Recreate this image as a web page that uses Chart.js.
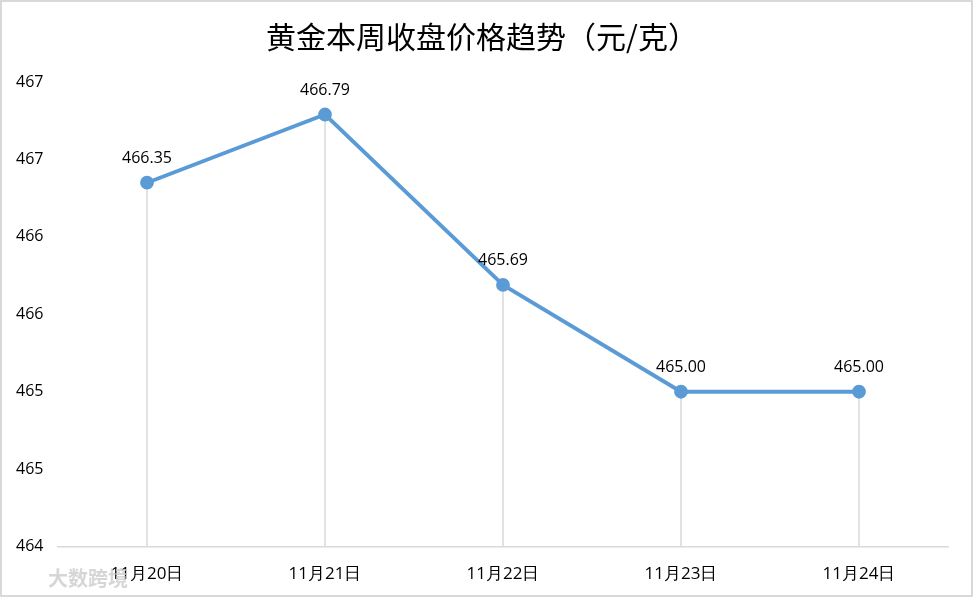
<!DOCTYPE html>
<html>
<head>
<meta charset="utf-8">
<script src="https://cdn.jsdelivr.net/npm/chart.js@4"></script>
<style>
  body { margin: 0; background: #fff; }
  #wrap { width: 973px; height: 597px; }
</style>
</head>
<body>
<div id="wrap"><canvas id="goldChart" width="973" height="597"></canvas></div>
<script>
// data
const dates = ['11月20日', '11月21日', '11月22日', '11月23日', '11月24日'];
const prices = [466.35, 466.79, 465.69, 465.00, 465.00];
const yTicks = [464, 464.5, 465, 465.5, 466, 466.5, 467];

const lineColor = '#5b9bd5';
const gray = '#d9d9d9';

// background, frame and watermark
const frame = {
  id: 'frame',
  beforeDraw(chart) {
    const ctx = chart.ctx;
    ctx.save();
    ctx.fillStyle = '#fff';
    ctx.fillRect(0, 0, chart.width, chart.height);
    ctx.strokeStyle = gray;
    ctx.lineWidth = 2;
    ctx.strokeRect(1, 1, chart.width - 2, chart.height - 2);
    ctx.restore();
  },
  afterDraw(chart) {
    const ctx = chart.ctx;
    ctx.save();
    ctx.font = 'bold 20px "Noto Sans CJK SC"';
    ctx.textBaseline = 'middle';
    ctx.fillStyle = 'rgba(200,200,200,0.75)';
    ctx.fillText('大数跨境', 48, 578);
    ctx.restore();
  }
};

// vertical drop lines from each point to the x axis
const dropLines = {
  id: 'dropLines',
  beforeDatasetsDraw(chart) {
    const ctx = chart.ctx;
    const meta = chart.getDatasetMeta(0);
    const bottom = chart.scales.y.bottom;
    ctx.save();
    ctx.strokeStyle = gray;
    ctx.lineWidth = 1.5;
    meta.data.forEach(pt => {
      ctx.beginPath();
      ctx.moveTo(pt.x, pt.y);
      ctx.lineTo(pt.x, bottom);
      ctx.stroke();
    });
    ctx.restore();
  }
};

// value labels above points
const valueLabels = {
  id: 'valueLabels',
  afterDatasetsDraw(chart) {
    const ctx = chart.ctx;
    const meta = chart.getDatasetMeta(0);
    ctx.save();
    ctx.font = '16px "Open Sans"';
    ctx.fillStyle = '#000';
    ctx.textAlign = 'center';
    ctx.textBaseline = 'middle';
    meta.data.forEach((pt, i) => {
      ctx.fillText(prices[i].toFixed(2), pt.x, pt.y - 24);
    });
    ctx.restore();
  }
};

new Chart(document.getElementById('goldChart'), {
  type: 'line',
  data: {
    labels: dates,
    datasets: [{
      data: prices,
      borderColor: lineColor,
      backgroundColor: lineColor,
      borderWidth: 3.8,
      pointRadius: 5,
      pointHoverRadius: 5,
      tension: 0
    }]
  },
  plugins: [frame, dropLines, valueLabels],
  options: {
    responsive: false,
    animation: false,
    layout: { padding: { left: 16, right: 25, top: 0, bottom: -4 } },
    plugins: {
      legend: { display: false },
      tooltip: { enabled: false },
      title: {
        display: true,
        text: '黄金本周收盘价格趋势（元/克）',
        color: '#000',
        font: { family: '"Noto Sans CJK SC"', size: 30, weight: 'normal' },
        padding: { top: 19, bottom: 27 }
      }
    },
    scales: {
      x: {
        offset: true,
        grid: { display: false, drawTicks: false },
        border: { display: true, color: gray, width: 1.5 },
        ticks: {
          color: '#000',
          padding: 17,
          font: { family: '"Open Sans"', size: 17 }
        }
      },
      y: {
        min: 464,
        max: 467,
        afterBuildTicks(scale) {
          scale.ticks = yTicks.map(v => ({ value: v }));
        },
        afterFit(scale) { scale.width = 42; },
        grid: { display: false, drawTicks: false },
        border: { display: false },
        ticks: {
          color: '#000',
          crossAlign: 'far',
          font: { family: '"Open Sans"', size: 16 },
          callback: v => String(Math.round(v))
        }
      }
    }
  }
});
</script>
</body>
</html>
